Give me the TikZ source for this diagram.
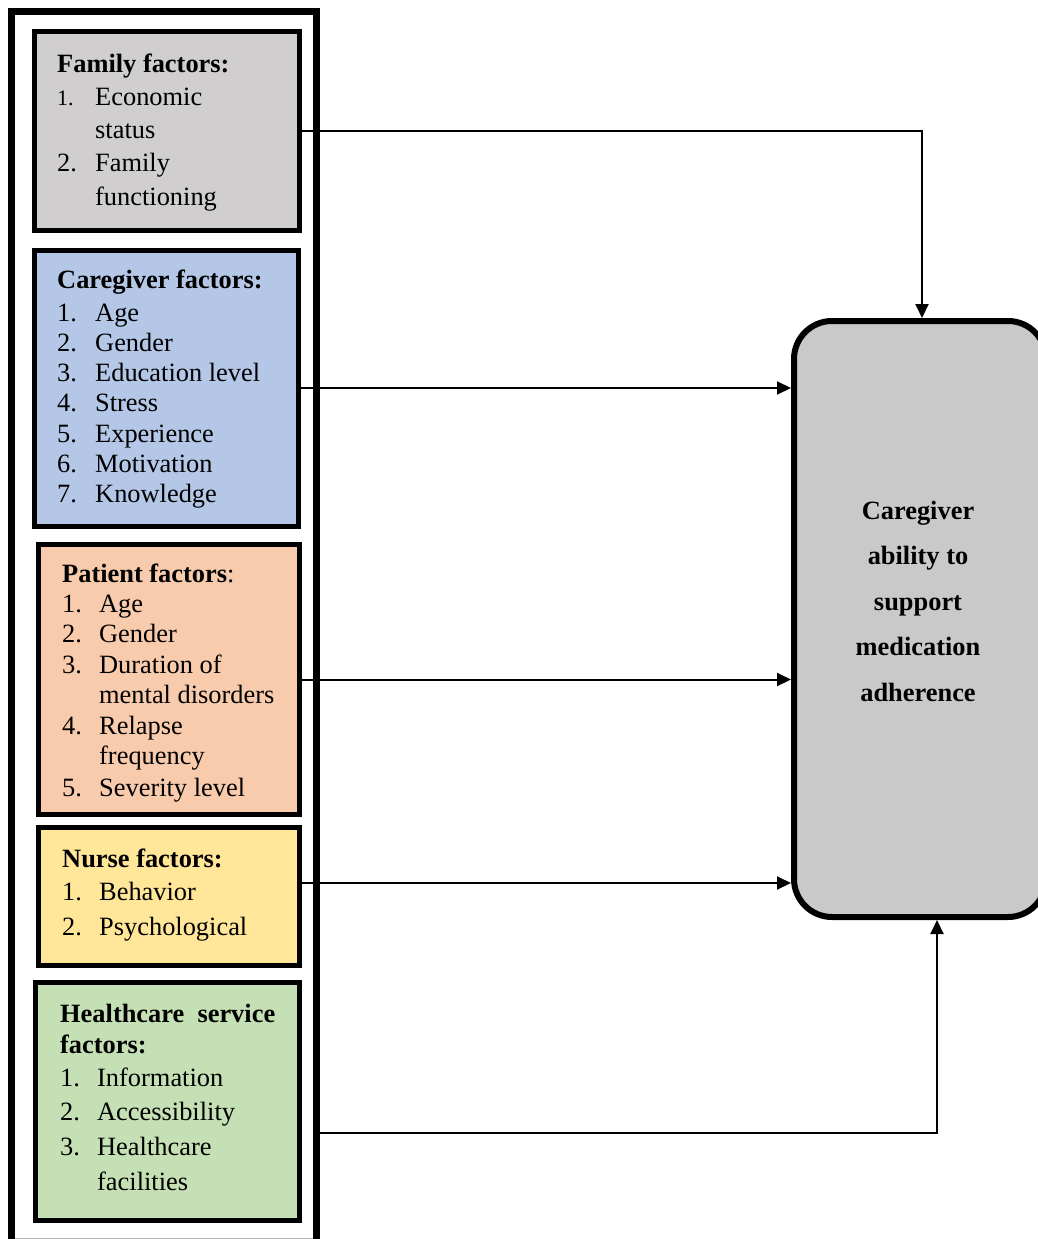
\documentclass[tikz,border=0pt]{standalone}
\usepackage{fontspec}
\setmainfont{Liberation Serif}
\usetikzlibrary{arrows.meta}
\definecolor{famgray}{HTML}{D0CECE}
\definecolor{careblue}{HTML}{B4C7E7}
\definecolor{patorange}{HTML}{F8CBAD}
\definecolor{nurseyellow}{HTML}{FFE699}
\definecolor{hcgreen}{HTML}{C5E0B4}
\definecolor{goalgray}{HTML}{C9C9C9}
\tikzset{
  factorbox/.style={draw=black, line width=5pt, inner sep=0pt, rectangle},
  listtext/.style={anchor=base west, inner sep=0pt, align=left},
  conn/.style={line width=2pt, -{Triangle[length=14pt,width=13pt]}},
}
\begin{document}
\begin{tikzpicture}[x=1pt,y=-1pt]
\useasboundingbox (0,0) rectangle (1037,1239);
% outer frame
\node[draw=black, line width=7pt, inner sep=0pt, minimum width=305pt, minimum height=1230.5pt] (frame) at (164,627.25) {};
\draw[gray!60, line width=0.8pt] (15,1238.4) -- (313,1238.4);
% factor boxes
\node[factorbox, fill=famgray, minimum width=265pt, minimum height=199pt] (fam) at (167,131) {};
\node[factorbox, fill=careblue, minimum width=264pt, minimum height=276pt] (care) at (166.5,388) {};
\node[factorbox, fill=patorange, minimum width=261pt, minimum height=270pt] (pat) at (169,679.5) {};
\node[factorbox, fill=nurseyellow, minimum width=261pt, minimum height=138pt] (nurse) at (169,896.5) {};
\node[factorbox, fill=hcgreen, minimum width=264pt, minimum height=238pt] (hc) at (167.5,1101.5) {};
% goal box
\node[draw=black, fill=goalgray, line width=6pt, rounded corners=38pt, inner sep=0pt, minimum width=252pt, minimum height=596pt] (goal) at (920,619) {};
% texts
\node[listtext, font=\fontsize{26.4}{33.3}\selectfont] (famtxt) at (57,72) {%
\begin{tabular}[t]{@{}p{38pt}@{}l@{}}
\multicolumn{2}{@{}l@{}}{\bfseries Family factors:}\\
{\fontsize{22}{22}\selectfont 1.} & Economic\\
 & status\\
2. & Family\\
 & functioning
\end{tabular}};
\node[listtext, font=\fontsize{26.4}{30.3}\selectfont] (caretxt) at (57,288) {%
\begin{tabular}[t]{@{}p{38pt}@{}l@{}}
\multicolumn{2}{@{}l@{}}{\bfseries Caregiver factors:}\\[2.7pt]
1. & Age\\
2. & Gender\\
3. & Education level\\
4. & Stress\\
5. & Experience\\
6. & Motivation\\
7. & Knowledge
\end{tabular}};
\node[listtext, font=\fontsize{26.4}{30.4}\selectfont] (pattxt) at (62,582) {%
\begin{tabular}[t]{@{}p{37pt}@{}l@{}}
\multicolumn{2}{@{}l@{}}{\textbf{Patient factors}:}\\
1. & Age\\
2. & Gender\\
3. & Duration of\\
 & mental disorders\\
4. & Relapse\\
 & frequency\\[2pt]
5. & Severity level
\end{tabular}};
\node[listtext, font=\fontsize{26.4}{33.5}\selectfont] (nursetxt) at (62,867) {%
\begin{tabular}[t]{@{}p{37pt}@{}l@{}}
\multicolumn{2}{@{}l@{}}{\bfseries Nurse factors:}\\
1. & Behavior\\[1.5pt]
2. & Psychological
\end{tabular}};
\node[listtext, font=\fontsize{26.4}{33.5}\selectfont] (hctxt) at (60,1022) {%
\begin{tabular}[t]{@{}p{37pt}@{}l@{}}
\multicolumn{2}{@{}l@{}}{\bfseries\makebox[215pt][s]{Healthcare\hfill service}}\\[-2.5pt]
\multicolumn{2}{@{}l@{}}{\bfseries factors:}\\
1. & Information\\
2. & Accessibility\\[1.5pt]
3. & Healthcare\\[1.5pt]
 & facilities
\end{tabular}};
\node[anchor=base, inner sep=0pt, font=\fontsize{26.4}{45.5}\selectfont\bfseries] (goaltxt) at (918,519) {%
\begin{tabular}[t]{@{}c@{}}
Caregiver\\
ability to\\
support\\
medication\\
adherence
\end{tabular}};
% connectors
\coordinate (gtop) at ([xshift=2pt]goal.north);
\coordinate (gbot) at ([xshift=17pt]goal.south);
\coordinate (nout) at ([yshift=13.5pt]nurse.east);
\coordinate (hcout) at ([yshift=-31.5pt]hc.east);
\draw[conn] (fam.east) -| (gtop);
\draw[conn] (care.east) -- (goal.west |- care.east);
\draw[conn] (pat.east) -- (goal.west |- pat.east);
\draw[conn] (nout) -- (goal.west |- nout);
\draw[conn] (hcout -| frame.east) -| (gbot);
\end{tikzpicture}
\end{document}
